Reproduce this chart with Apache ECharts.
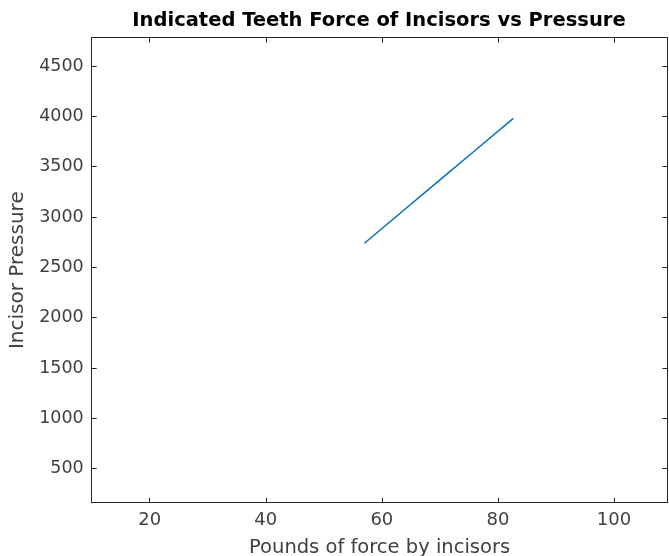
<!DOCTYPE html>
<html><head><meta charset="utf-8">
<script src="https://cdn.jsdelivr.net/npm/echarts@6/dist/echarts.min.js"></script>
<style>html,body{margin:0;padding:0;background:#fff}#c{width:669px;height:556px}</style>
</head><body><div id="c"></div>
<script>
const force = [57, 63, 70, 76, 82.65];
const pressure = [2739, 3030, 3368, 3658, 3980];
const xTicks = [20, 40, 60, 80, 100];
const yTicks = [500, 1000, 1500, 2000, 2500, 3000, 3500, 4000, 4500];
const xMin = 10, xMax = 109.2, yMin = 162, yMax = 4781;

const font = 'DejaVu Sans';
const axisCol = '#262626';
const labCol = '#404040';
function xAx(pos, show) {
  return {
    type: 'value', position: pos, min: xMin, max: xMax,
    name: show ? 'Pounds of force by incisors' : '', nameLocation: 'middle', nameGap: 35,
    nameTextStyle: {fontFamily: font, fontSize: 19.5, color: labCol},
    axisLine: {show: true, onZero: false, lineStyle: {color: axisCol, width: 1}},
    axisTick: {show: true, inside: true, length: 5, customValues: xTicks, lineStyle: {color: axisCol}},
    axisLabel: {show: show, customValues: xTicks, formatter: v => String(v), fontFamily: font, fontSize: 18, color: labCol, margin: 9},
    splitLine: {show: false}
  };
}
function yAx(pos, show) {
  return {
    type: 'value', position: pos, min: yMin, max: yMax,
    name: show ? 'Incisor Pressure' : '', nameLocation: 'middle', nameGap: 57,
    nameTextStyle: {fontFamily: font, fontSize: 20, color: labCol},
    axisLine: {show: true, onZero: false, lineStyle: {color: axisCol, width: 1}},
    axisTick: {show: true, inside: true, length: 5, customValues: yTicks, lineStyle: {color: axisCol}},
    axisLabel: {show: show, customValues: yTicks, formatter: v => String(v), fontFamily: font, fontSize: 17.5, color: labCol, margin: 8},
    splitLine: {show: false}
  };
}
const chart = echarts.init(document.getElementById('c'), null, {renderer: 'canvas'});
chart.setOption({
  animation: false,
  backgroundColor: '#fff',
  title: {
    text: 'Indicated Teeth Force of Incisors vs Pressure',
    left: 374, top: 6, textAlign: 'center',
    textStyle: {fontFamily: font, fontSize: 19.5, fontWeight: 'bold', color: '#000'}
  },
  grid: {left: 91.7, right: 1.6, top: 37.7, bottom: 53.3, containLabel: false, outerBoundsMode: 'none'},
  xAxis: [xAx('bottom', true), xAx('top', false)],
  yAxis: [yAx('left', true), yAx('right', false)],
  series: [{
    type: 'line', xAxisIndex: 0, yAxisIndex: 0,
    data: force.map((f, i) => [f, pressure[i]]),
    showSymbol: false, symbol: 'none',
    lineStyle: {color: '#0072BD', width: 1.5}
  }]
});
</script></body></html>
